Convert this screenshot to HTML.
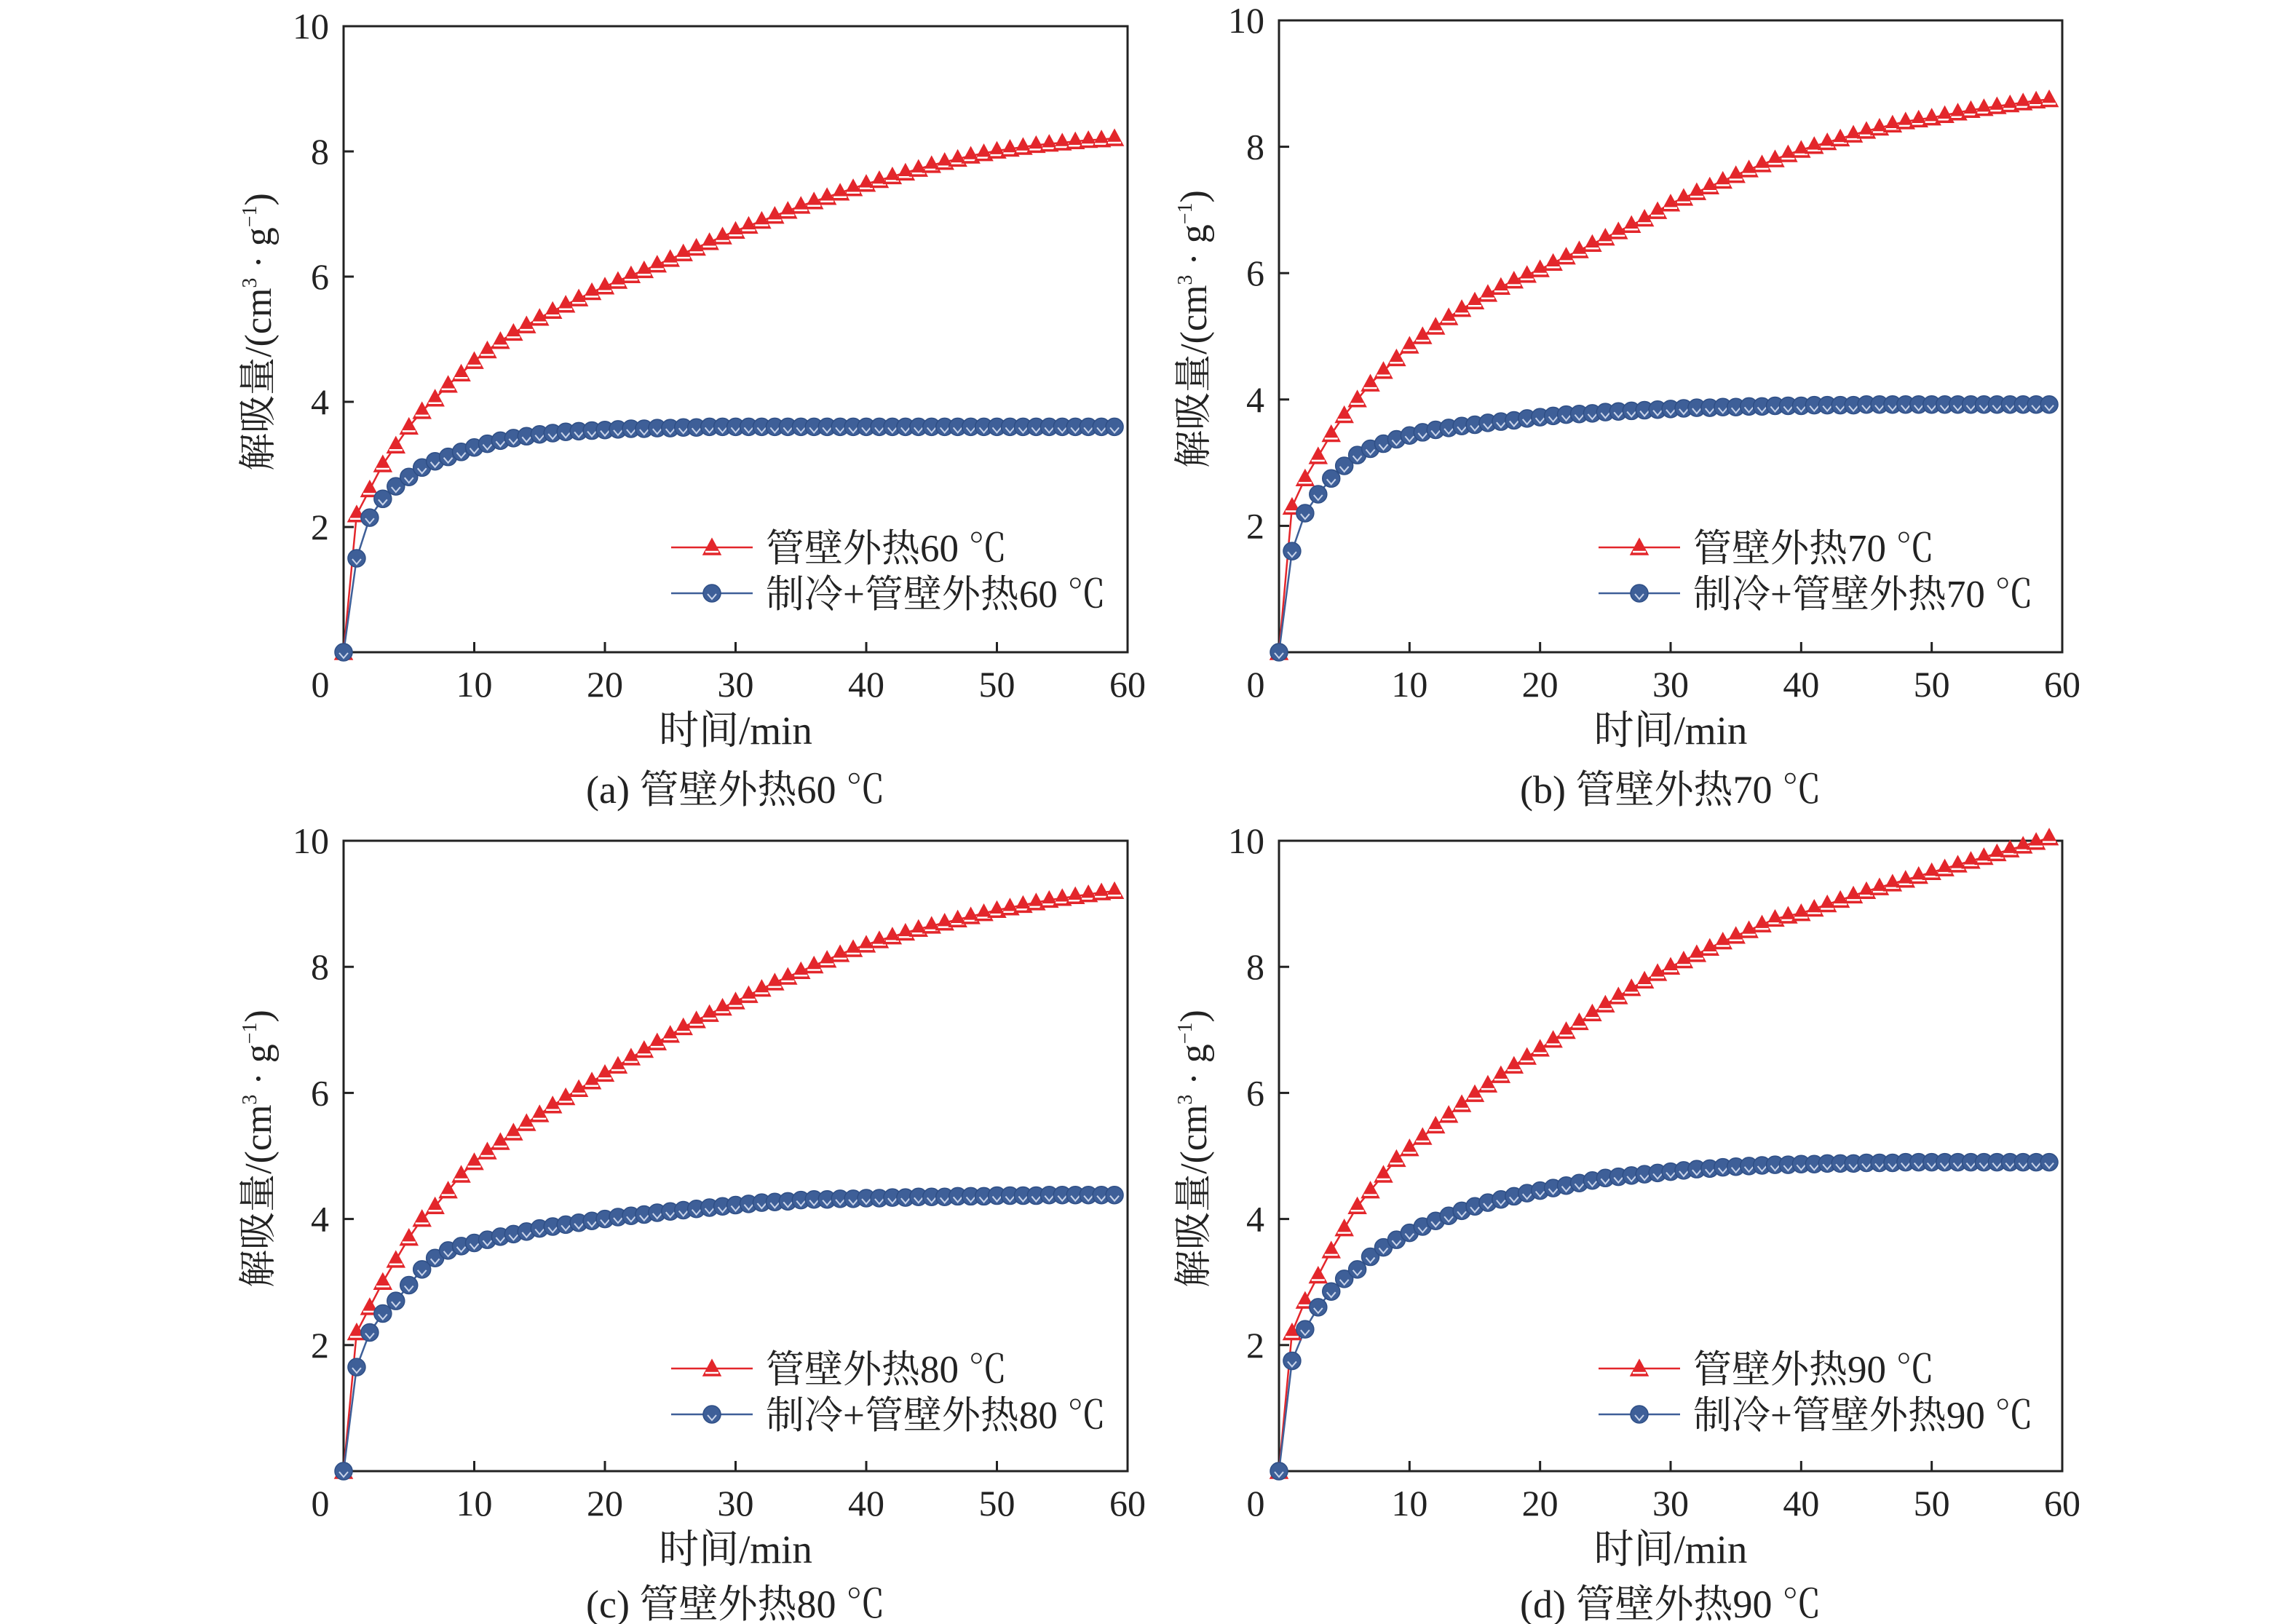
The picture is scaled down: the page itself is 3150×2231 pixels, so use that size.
<!DOCTYPE html>
<html><head><meta charset="utf-8"><style>html,body{margin:0;padding:0;background:#fff}svg{display:block}</style></head>
<body>
<svg id="fig" width="3150" height="2231" viewBox="0 0 3150 2231" xmlns="http://www.w3.org/2000/svg" font-family="'Liberation Serif','Noto Serif CJK SC','Noto Sans CJK SC',serif"></svg>
<script>
const xValues = [0,1,2,3,4,5,6,7,8,9,10,11,12,13,14,15,16,17,18,19,20,21,22,23,24,25,26,27,28,29,30,31,32,33,34,35,36,37,38,39,40,41,42,43,44,45,46,47,48,49,50,51,52,53,54,55,56,57,58,59];
const xTicks = [0,10,20,30,40,50,60];
const yTicks = [2,4,6,8,10];
const redA = [0,2.2,2.6,3.0,3.3,3.6,3.85,4.05,4.27,4.45, 4.65,4.82,4.97,5.1,5.22,5.34,5.45,5.55,5.65,5.75, 5.84,5.93,6.02,6.1,6.19,6.28,6.37,6.46,6.55,6.64, 6.73,6.81,6.89,6.97,7.05,7.13,7.2,7.27,7.34,7.41, 7.48,7.54,7.6,7.66,7.72,7.78,7.83,7.88,7.93,7.97, 8.01,8.04,8.07,8.1,8.12,8.14,8.16,8.18,8.19,8.21];
const blueA = [0,1.5,2.15,2.45,2.65,2.8,2.95,3.05,3.12,3.2, 3.27,3.33,3.38,3.42,3.45,3.48,3.5,3.52,3.53,3.54, 3.55,3.56,3.57,3.57,3.58,3.58,3.59,3.59,3.6,3.6, 3.6,3.6,3.6,3.6,3.6,3.6,3.6,3.6,3.6,3.6, 3.6,3.6,3.6,3.6,3.6,3.6,3.6,3.6,3.6,3.6, 3.6,3.6,3.6,3.6,3.6,3.6,3.6,3.6,3.6,3.6];
const redB = [0,2.3,2.75,3.1,3.45,3.75,4.0,4.25,4.45,4.65, 4.85,5.0,5.15,5.3,5.43,5.55,5.67,5.78,5.88,5.97, 6.06,6.16,6.26,6.36,6.46,6.56,6.66,6.76,6.86,6.98, 7.1,7.19,7.28,7.37,7.46,7.55,7.64,7.72,7.8,7.88, 7.95,8.01,8.07,8.13,8.19,8.25,8.3,8.35,8.4,8.43, 8.46,8.5,8.54,8.58,8.61,8.64,8.67,8.7,8.73,8.75];
const blueB = [0,1.6,2.2,2.5,2.75,2.95,3.12,3.22,3.3,3.37, 3.43,3.48,3.52,3.55,3.58,3.6,3.63,3.65,3.67,3.7, 3.72,3.74,3.76,3.77,3.78,3.8,3.81,3.82,3.83,3.84, 3.85,3.86,3.87,3.87,3.88,3.88,3.89,3.89,3.9,3.9, 3.9,3.91,3.91,3.91,3.91,3.92,3.92,3.92,3.92,3.92, 3.92,3.92,3.92,3.92,3.92,3.92,3.92,3.92,3.92,3.92];
const redC = [0,2.2,2.6,3.0,3.35,3.7,4.0,4.2,4.45,4.7, 4.9,5.07,5.22,5.37,5.52,5.66,5.8,5.93,6.06,6.18, 6.3,6.43,6.56,6.68,6.8,6.92,7.04,7.15,7.25,7.35, 7.45,7.55,7.65,7.75,7.84,7.93,8.02,8.11,8.2,8.28, 8.35,8.42,8.48,8.54,8.6,8.65,8.7,8.75,8.8,8.85, 8.9,8.94,8.98,9.02,9.06,9.09,9.12,9.15,9.18,9.2];
const blueC = [0,1.65,2.2,2.5,2.7,2.95,3.2,3.38,3.5,3.57, 3.62,3.67,3.72,3.76,3.8,3.85,3.88,3.91,3.94,3.97, 4.0,4.03,4.05,4.07,4.1,4.12,4.14,4.16,4.18,4.2, 4.22,4.24,4.26,4.27,4.28,4.3,4.31,4.31,4.32,4.32, 4.33,4.33,4.34,4.34,4.35,4.35,4.35,4.36,4.36,4.36, 4.37,4.37,4.37,4.37,4.38,4.38,4.38,4.38,4.38,4.38];
const redD = [0,2.2,2.7,3.1,3.5,3.85,4.2,4.45,4.7,4.95, 5.12,5.3,5.48,5.65,5.82,5.98,6.13,6.28,6.43,6.57, 6.7,6.84,6.98,7.12,7.26,7.4,7.53,7.66,7.78,7.9, 8.0,8.1,8.2,8.3,8.4,8.49,8.58,8.67,8.76,8.81, 8.85,8.92,8.99,9.06,9.13,9.2,9.26,9.32,9.38,9.44, 9.5,9.56,9.62,9.68,9.74,9.8,9.86,9.92,9.98,10.05];
const blueD = [0,1.75,2.25,2.6,2.85,3.05,3.2,3.4,3.55,3.67, 3.78,3.88,3.97,4.05,4.13,4.2,4.26,4.31,4.36,4.41, 4.45,4.49,4.53,4.57,4.61,4.65,4.67,4.69,4.71,4.73, 4.75,4.77,4.79,4.8,4.82,4.83,4.84,4.85,4.86,4.86, 4.87,4.87,4.88,4.88,4.88,4.89,4.89,4.89,4.9,4.9, 4.9,4.9,4.9,4.9,4.9,4.9,4.9,4.9,4.9,4.9];
const temps = ['60','70','80','90'];
const captionLetters = ['(a)','(b)','(c)','(d)'];

const NS='http://www.w3.org/2000/svg';
const svg=document.getElementById('fig');
function mk(tag,attrs,parent){const e=document.createElementNS(NS,tag);for(const k in attrs)e.setAttribute(k,attrs[k]);(parent||svg).appendChild(e);return e;}
const RED='#e3262b', BLUE='#3e5f98';
function tri(g,cx,cy){
  const p=mk('path',{d:`M${cx-12} ${cy+10} L${cx} ${cy-12} L${cx+12} ${cy+10} Z`,fill:RED,stroke:RED,'stroke-width':1.5},g);
  
  
  mk('line',{x1:cx-9,y1:cy+6,x2:cx+9,y2:cy+6,stroke:'#fff','stroke-width':2.5},g);
}
function circ(g,cx,cy){
  const c=mk('circle',{cx:cx,cy:cy,r:12,fill:BLUE,stroke:'#2f4f86','stroke-width':1.5},g);
  
  
  mk('path',{d:`M${cx-6} ${cy+1} L${cx} ${cy+8} L${cx+6} ${cy+1}`,fill:'none',stroke:'#c9d4ea','stroke-width':2},g);
}
const panels=[
 {L:472,R:1549,T:36,B:896,red:redA,blue:blueA,legX:922,legY:752,capY:1103,xlY:957,titY:1022},
 {L:1757,R:2833,T:28,B:896,red:redB,blue:blueB,legX:2196,legY:752,capY:1103,xlY:957,titY:1022},
 {L:472,R:1549,T:1155,B:2021,red:redC,blue:blueC,legX:922,legY:1880,capY:2222,xlY:2082,titY:2147},
 {L:1757,R:2833,T:1155,B:2021,red:redD,blue:blueD,legX:2196,legY:1880,capY:2222,xlY:2082,titY:2147}
];
panels.forEach((p,i)=>{
  const g=mk('g',{});
  
  
  const sx=v=>p.L+(v/60)*(p.R-p.L);
  const sy=v=>p.B-(v/10)*(p.B-p.T);
  const frame=mk('rect',{x:p.L,y:p.T,width:p.R-p.L,height:p.B-p.T,fill:'none',stroke:'#222','stroke-width':3},g);
  
  
  xTicks.forEach(t=>{
    const x=sx(t);
    if(t>0&&t<60) mk('line',{x1:x,y1:p.B,x2:x,y2:p.B-14,stroke:'#222','stroke-width':3},g);
    const tx=mk('text',{x:t===0?x-32:x,y:p.xlY,'font-size':50,'text-anchor':'middle',fill:'#222'},g);
    tx.textContent=t;
    
    
  });
  yTicks.forEach(t=>{
    const y=sy(t);
    if(t<10) mk('line',{x1:p.L,y1:y,x2:p.L+14,y2:y,stroke:'#222','stroke-width':3},g);
    const ty=mk('text',{x:p.L-20,y:y+17,'font-size':50,'text-anchor':'end',fill:'#222'},g);
    ty.textContent=t;
    
    
  });
  const xt=mk('text',{x:(p.L+p.R)/2,y:p.titY,'font-size':55,'text-anchor':'middle',fill:'#222'},g);
  xt.textContent='时间/min';
  
  
  const yx=p.L-100, yy=(p.T+p.B)/2-10;
  const yt=mk('text',{x:yx,y:yy,'font-size':52,'text-anchor':'middle',fill:'#222',transform:`rotate(-90 ${yx} ${yy})`},g);
  yt.innerHTML='解吸量/(cm<tspan font-size="28" dy="-20">3</tspan><tspan dy="20"> · g</tspan><tspan font-size="28" dy="-20">−1</tspan><tspan dy="20">)</tspan>';
  
  
  const cap=mk('text',{x:(p.L+p.R)/2,y:p.capY,'font-size':54,'text-anchor':'middle',fill:'#222'},g);
  cap.textContent=captionLetters[i]+' 管壁外热'+temps[i]+' ℃';
  
  
  const rp=mk('polyline',{points:xValues.map((x,k)=>sx(x)+','+sy(p.red[k])).join(' '),fill:'none',stroke:RED,'stroke-width':2.5},g);
  
  
  const bp=mk('polyline',{points:xValues.map((x,k)=>sx(x)+','+sy(p.blue[k])).join(' '),fill:'none',stroke:BLUE,'stroke-width':2.5},g);
  
  
  xValues.forEach((x,k)=>tri(g,sx(x),sy(p.red[k])));
  xValues.forEach((x,k)=>circ(g,sx(x),sy(p.blue[k])));
  const lg=mk('g',{},g);
  
  
  mk('line',{x1:p.legX,y1:p.legY,x2:p.legX+112,y2:p.legY,stroke:RED,'stroke-width':2.5},lg);
  tri(lg,p.legX+56,p.legY);
  const l1=mk('text',{x:p.legX+130,y:p.legY+19,'font-size':53,fill:'#222'},lg);
  l1.textContent='管壁外热'+temps[i]+' ℃';
  
  
  mk('line',{x1:p.legX,y1:p.legY+63,x2:p.legX+112,y2:p.legY+63,stroke:BLUE,'stroke-width':2.5},lg);
  circ(lg,p.legX+56,p.legY+63);
  const l2=mk('text',{x:p.legX+130,y:p.legY+82,'font-size':53,fill:'#222'},lg);
  l2.textContent='制冷+管壁外热'+temps[i]+' ℃';
  
  
});
</script>
</body></html>
